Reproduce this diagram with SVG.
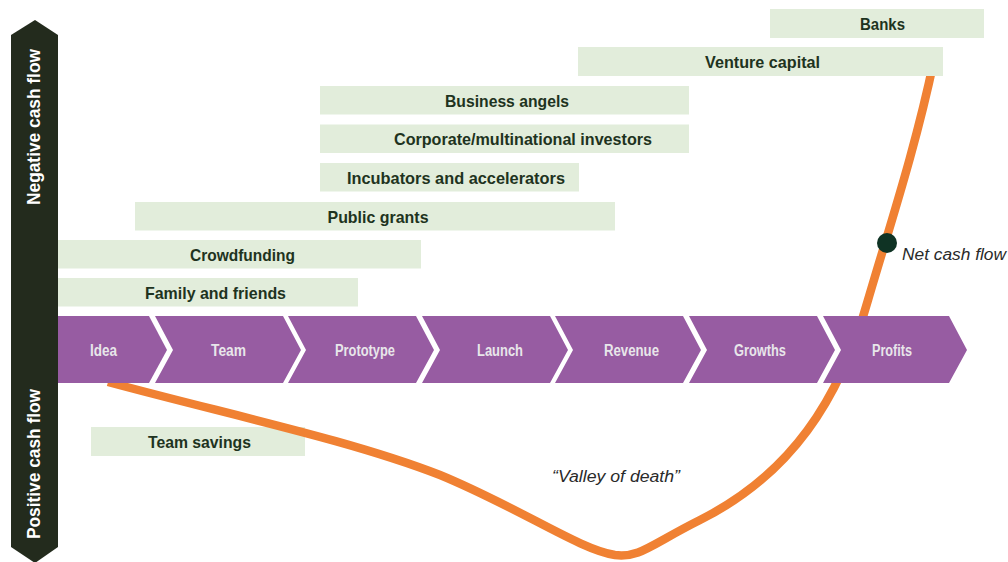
<svg xmlns="http://www.w3.org/2000/svg" width="1008" height="562" viewBox="0 0 1008 562">
  <style>
    .box { fill: #E2EDDB; }
    .blabel { font-family: "Liberation Sans", Arial, sans-serif; font-weight: bold; font-size: 17px; fill: #1E3320; text-anchor: middle; }
    .chev { fill: #975CA2; }
    .clabel { font-family: "Liberation Sans", Arial, sans-serif; font-weight: bold; font-size: 16px; fill: #E8E6EA; text-anchor: middle; }
    .side { font-family: "Liberation Sans", Arial, sans-serif; font-weight: bold; font-size: 19px; fill: #FFFFFF; text-anchor: middle; }
    .note { font-family: "Liberation Sans", Arial, sans-serif; font-style: italic; font-size: 16px; fill: #2A2A2A; }
  </style>
  <rect width="1008" height="562" fill="#FFFFFF"/>

  <g id="axis">
    <polygon points="35,20 58,35 58,547 35,563 11,547 11,35" fill="#232B1D"/>
    <text class="side" transform="translate(40,127) rotate(-90)" textLength="156" lengthAdjust="spacingAndGlyphs">Negative cash flow</text>
    <text class="side" transform="translate(40,464) rotate(-90)" textLength="150" lengthAdjust="spacingAndGlyphs">Positive cash flow</text>
  </g>

  <g id="team-savings">
    <rect class="box" x="91" y="427" width="214" height="29"/>
    <text class="blabel" x="199.5" y="448" textLength="103" lengthAdjust="spacingAndGlyphs">Team savings</text>
  </g>

  <g id="connectors">
    <path id="net-cash-flow-curve" d="M108,382 C230,415 350,440 440,475 C520,508 580,550 615,555 C640,558 650,545 700,520 C790,475 840,400 868,300 C890,225 915,150 934,60" fill="none" stroke="#F08133" stroke-width="8.5" stroke-linejoin="round"/>
  </g>

  <g id="net-cash-flow">
    <circle cx="887" cy="243" r="10" fill="#0F3324"/>
    <text class="note" x="902" y="260" textLength="104" lengthAdjust="spacingAndGlyphs">Net cash flow</text>
  </g>

  <g id="valley-of-death">
    <text class="note" x="552" y="482" textLength="128" lengthAdjust="spacingAndGlyphs">“Valley of death”</text>
  </g>

  <g id="banks">
    <rect class="box" x="770" y="9" width="214" height="29"/>
    <text class="blabel" x="882.5" y="29.5" textLength="45" lengthAdjust="spacingAndGlyphs">Banks</text>
  </g>
  <g id="venture-capital">
    <rect class="box" x="578" y="47" width="365" height="29"/>
    <text class="blabel" x="762.5" y="67.5" textLength="115" lengthAdjust="spacingAndGlyphs">Venture capital</text>
  </g>
  <g id="business-angels">
    <rect class="box" x="320" y="86" width="369" height="28.5"/>
    <text class="blabel" x="507" y="106.5" textLength="124" lengthAdjust="spacingAndGlyphs">Business angels</text>
  </g>
  <g id="corporate-investors">
    <rect class="box" x="320" y="124.5" width="369" height="28.5"/>
    <text class="blabel" x="523" y="145" textLength="258" lengthAdjust="spacingAndGlyphs">Corporate/multinational investors</text>
  </g>
  <g id="incubators">
    <rect class="box" x="320" y="163" width="259" height="28.5"/>
    <text class="blabel" x="456" y="183.5" textLength="218" lengthAdjust="spacingAndGlyphs">Incubators and accelerators</text>
  </g>
  <g id="public-grants">
    <rect class="box" x="135" y="202" width="480" height="28.5"/>
    <text class="blabel" x="378" y="222.5" textLength="101" lengthAdjust="spacingAndGlyphs">Public grants</text>
  </g>
  <g id="crowdfunding">
    <rect class="box" x="58" y="240" width="363" height="28.5"/>
    <text class="blabel" x="242.5" y="260.5" textLength="105" lengthAdjust="spacingAndGlyphs">Crowdfunding</text>
  </g>
  <g id="family-friends">
    <rect class="box" x="58" y="278" width="300" height="28.5"/>
    <text class="blabel" x="215.5" y="298.5" textLength="141" lengthAdjust="spacingAndGlyphs">Family and friends</text>
  </g>

  <g id="stage-idea">
    <polygon class="chev" points="58,316 149,316 167,350 149,383 58,383"/>
    <text class="clabel" x="103.5" y="356" textLength="27" lengthAdjust="spacingAndGlyphs">Idea</text>
  </g>
  <g id="stage-team">
    <polygon class="chev" points="155,316 283,316 301,350 283,383 155,383 173,350"/>
    <text class="clabel" x="228.5" y="356" textLength="35" lengthAdjust="spacingAndGlyphs">Team</text>
  </g>
  <g id="stage-prototype">
    <polygon class="chev" points="288,316 416,316 434,350 416,383 288,383 306,350"/>
    <text class="clabel" x="365" y="356" textLength="60" lengthAdjust="spacingAndGlyphs">Prototype</text>
  </g>
  <g id="stage-launch">
    <polygon class="chev" points="422,316 550,316 568,350 550,383 422,383 440,350"/>
    <text class="clabel" x="500" y="356" textLength="46" lengthAdjust="spacingAndGlyphs">Launch</text>
  </g>
  <g id="stage-revenue">
    <polygon class="chev" points="555,316 683,316 701,350 683,383 555,383 573,350"/>
    <text class="clabel" x="631.5" y="356" textLength="55" lengthAdjust="spacingAndGlyphs">Revenue</text>
  </g>
  <g id="stage-growths">
    <polygon class="chev" points="689,316 817,316 835,350 817,383 689,383 707,350"/>
    <text class="clabel" x="760" y="356" textLength="52" lengthAdjust="spacingAndGlyphs">Growths</text>
  </g>
  <g id="stage-profits">
    <polygon class="chev" points="823,316 949,316 967,350 949,383 823,383 841,350"/>
    <text class="clabel" x="892" y="356" textLength="40" lengthAdjust="spacingAndGlyphs">Profits</text>
  </g>
</svg>
